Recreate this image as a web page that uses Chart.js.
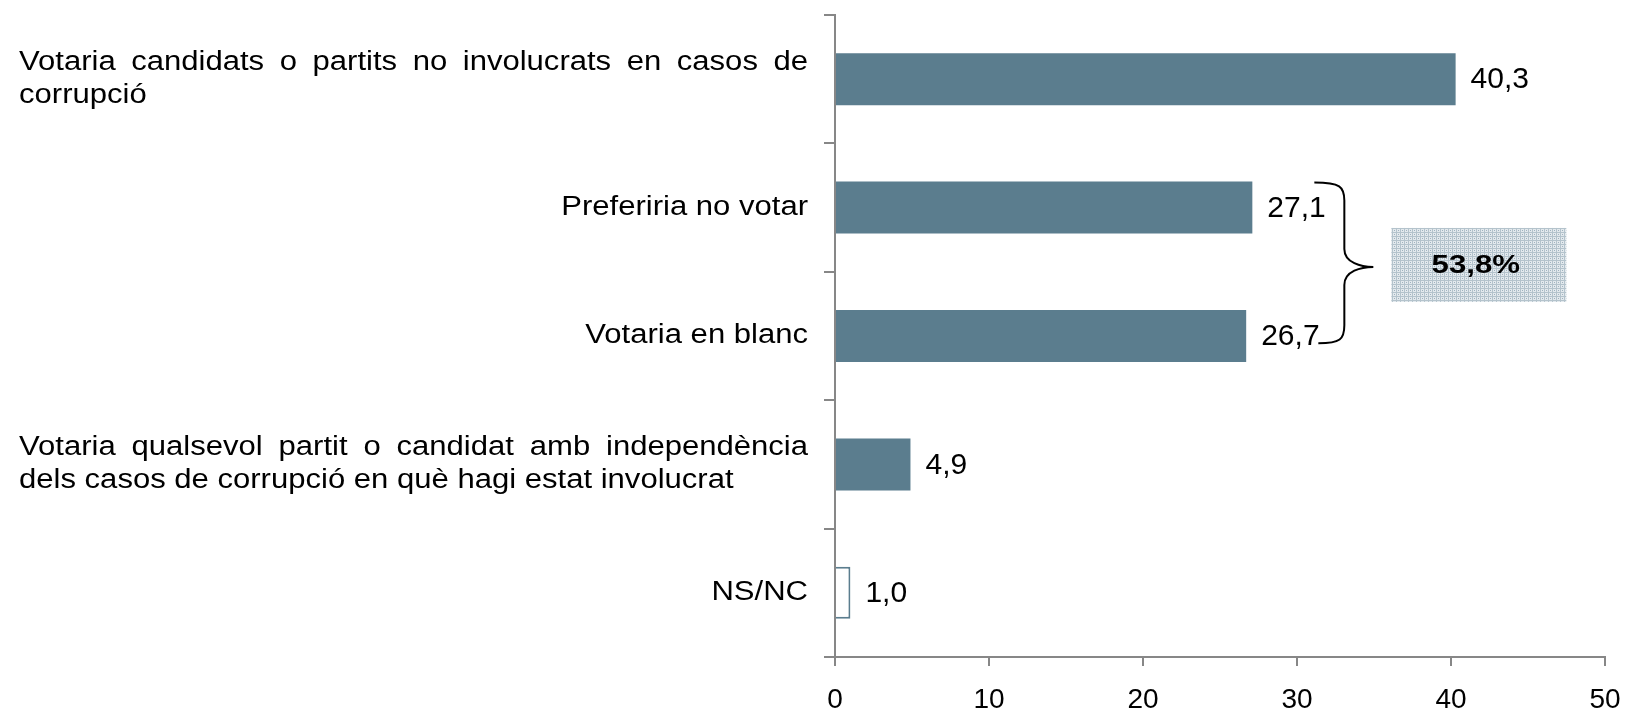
<!DOCTYPE html>
<html>
<head>
<meta charset="utf-8">
<script src="https://cdn.jsdelivr.net/npm/chart.js@4"></script>
<style>
  html, body { margin: 0; padding: 0; background: #fff; }
  #wrap { width: 1625px; height: 711px; }
</style>
</head>
<body>
<div id="wrap"><canvas id="votChart" width="1625" height="711"></canvas></div>
<script>
// Dades del gràfic
const categories = [
    ['Votaria candidats o partits no involucrats en casos de', 'corrupció'],
    ['Preferiria no votar'],
    ['Votaria en blanc'],
    ['Votaria qualsevol partit o candidat amb independència', 'dels casos de corrupció en què hagi estat involucrat'],
    ['NS/NC']
];
const values = [40.3, 27.1, 26.7, 4.9, 1.0];
const xTicks = [0, 10, 20, 30, 40, 50];
const groupedIdx = [1, 2];   // barres agrupades amb la clau

const barColor = '#5b7d8e';
const axisColor = '#878787';
const fontFamily = "'Liberation Sans', Arial, sans-serif";

const fmt = v => v.toFixed(1).replace('.', ',');

// text amb escala horitzontal (el text original està eixamplat)
function drawText(ctx, text, x, y, sx, align) {
    ctx.save();
    ctx.translate(x, y);
    ctx.scale(sx, 1);
    ctx.textAlign = align;
    ctx.fillText(text, 0, 0);
    ctx.restore();
}

function makePattern(ctx) {
    const c = document.createElement('canvas');
    c.width = 4; c.height = 4;
    const p = c.getContext('2d');
    p.fillStyle = '#e3e9ed';
    p.fillRect(0, 0, 4, 4);
    p.fillStyle = '#b4c3cc';
    p.fillRect(0, 0, 4, 1);
    p.fillRect(0, 0, 1, 4);
    p.fillStyle = '#9fb2bf';
    p.fillRect(2, 2, 1, 1);
    return ctx.createPattern(c, 'repeat');
}

const labelsPlugin = {
    id: 'labelsPlugin',
    afterDatasetsDraw(chart) {
        const ctx = chart.ctx;
        const yScale = chart.scales.y;
        const meta = chart.getDatasetMeta(0);
        const sx = 1.15;
        const leftX = 19, rightX = 808, lineH = 33;

        ctx.save();
        ctx.fillStyle = '#000';
        ctx.textBaseline = 'middle';

        // etiquetes de categoria
        ctx.font = '27px ' + fontFamily;
        categories.forEach((lines, i) => {
            const cy = yScale.getPixelForValue(i);
            if (lines.length === 1) {
                drawText(ctx, lines[0], rightX, cy, sx, 'right');
                return;
            }
            const y0 = cy - lineH * (lines.length - 1) / 2;
            lines.forEach((line, j) => {
                const y = y0 + j * lineH;
                if (j < lines.length - 1) {
                    // línia justificada
                    const words = line.split(' ');
                    const widths = words.map(w => ctx.measureText(w).width * sx);
                    const total = widths.reduce((a, b) => a + b, 0);
                    const gap = (rightX - leftX - total) / (words.length - 1);
                    let x = leftX;
                    words.forEach((w, k) => {
                        drawText(ctx, w, x, y, sx, 'left');
                        x += widths[k] + gap;
                    });
                } else {
                    drawText(ctx, line, leftX, y, sx, 'left');
                }
            });
        });

        // valors al final de les barres
        ctx.font = '30px ' + fontFamily;
        meta.data.forEach((bar, i) => {
            drawText(ctx, fmt(values[i]), bar.x + 15, bar.y + 1, 1, 'left');
        });

        // clau i requadre del total
        const b1 = meta.data[groupedIdx[0]];
        const b2 = meta.data[groupedIdx[1]];
        const bx = Math.max(b1.x, b2.x) + 62;
        const top = b1.y - b1.height / 2 + 1;
        const bottom = b2.y + b2.height * 0.14;
        const mid = (top + bottom) / 2 + 4;
        const spine = bx + 30;
        const tip = bx + 59;
        ctx.strokeStyle = '#000';
        ctx.lineWidth = 2;
        ctx.beginPath();
        ctx.moveTo(bx, top);
        ctx.bezierCurveTo(spine - 4, top, spine, top + 4, spine, top + 18);
        ctx.lineTo(spine, mid - 18);
        ctx.bezierCurveTo(spine, mid - 4, tip - 12, mid, tip, mid);
        ctx.bezierCurveTo(tip - 12, mid, spine, mid + 4, spine, mid + 18);
        ctx.lineTo(spine, bottom - 18);
        ctx.bezierCurveTo(spine, bottom - 4, spine - 4, bottom, bx + 4, bottom);
        ctx.stroke();

        const boxX = tip + 18, boxW = 175, boxH = 74;
        const boxY = mid - boxH / 2 - 2;
        ctx.fillStyle = makePattern(ctx);
        ctx.fillRect(boxX, boxY, boxW, boxH);
        const total = groupedIdx.reduce((a, i) => a + values[i], 0);
        ctx.fillStyle = '#000';
        ctx.font = 'bold 26px ' + fontFamily;
        drawText(ctx, fmt(total) + '%', boxX + boxW / 2 - 3, boxY + boxH / 2 + 1, 1.2, 'center');
        ctx.restore();
    }
};

const votChart = new Chart(document.getElementById('votChart'), {
    type: 'bar',
    data: {
        labels: categories.map(l => l.join(' ')),
        datasets: [{
            data: values,
            backgroundColor: c => c.dataIndex === values.length - 1 ? '#ffffff' : barColor,
            borderColor: barColor,
            borderWidth: c => c.dataIndex === values.length - 1 ? 2 : 0,
            barPercentage: 0.405,
            categoryPercentage: 1
        }]
    },
    options: {
        indexAxis: 'y',
        responsive: false,
        animation: false,
        layout: { padding: { top: 15, right: 20, left: 0, bottom: 0 } },
        plugins: {
            legend: { display: false },
            tooltip: { enabled: false }
        },
        scales: {
            x: {
                min: xTicks[0],
                max: xTicks[xTicks.length - 1],
                afterBuildTicks: s => { s.ticks = xTicks.map(v => ({ value: v })); },
                afterFit: s => { s.height = 54; s.paddingLeft = 0; s.paddingRight = 0; },
                border: { color: axisColor, width: 2 },
                grid: { drawOnChartArea: false, color: axisColor, lineWidth: 2, tickLength: 9 },
                ticks: {
                    color: '#000',
                    padding: 17,
                    font: { family: fontFamily, size: 28 }
                }
            },
            y: {
                afterFit: s => { s.width = 835; },
                border: { color: axisColor, width: 2 },
                grid: { drawOnChartArea: false, color: axisColor, lineWidth: 2, tickLength: 11 },
                ticks: { display: false }
            }
        }
    },
    plugins: [labelsPlugin]
});
</script>
</body>
</html>
